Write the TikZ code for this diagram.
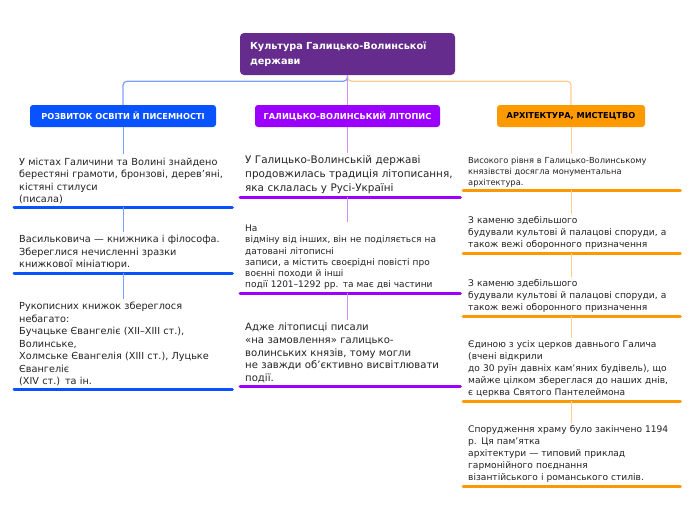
\documentclass[tikz,border=0pt]{standalone}
\usepackage{fontspec}
\setmainfont{DejaVu Sans}
\definecolor{rootc}{RGB}{101,44,142}
\definecolor{bluec}{RGB}{8,82,255}
\definecolor{bluel}{RGB}{125,160,250}
\definecolor{purc}{RGB}{155,0,255}
\definecolor{purl}{RGB}{205,145,255}
\definecolor{orc}{RGB}{255,153,0}
\definecolor{orl}{RGB}{255,205,140}
\definecolor{txt}{RGB}{35,35,35}
\tikzset{
  rootbox/.style={fill=rootc, rounded corners=4pt, text=white, font=\bfseries\fontsize{9.7}{15}\selectfont, align=left, minimum width=215pt, minimum height=42pt, inner xsep=10pt, text width=195pt},
  headbox/.style={rounded corners=3pt, font=\bfseries\fontsize{8.2}{9}\selectfont, minimum height=22pt, inner sep=0pt},
  item/.style={anchor=south west, align=left, text=txt, inner xsep=5pt, inner ysep=3pt},
  bline/.style={bluec, line width=3pt, line cap=round},
  pline/.style={purc, line width=3pt, line cap=round},
  oline/.style={orc, line width=3pt, line cap=round},
  bconn/.style={bluel, line width=1pt},
  pconn/.style={purl, line width=1pt},
  oconn/.style={orl, line width=1pt},
}
\begin{document}
\begin{tikzpicture}[x=1pt,y=-1pt]
\useasboundingbox[fill=white] (0,0) rectangle (696,520);
% root
\node[rootbox] (root) at (347.5,54) {Культура Галицько-Волинської\\держави};
% headers
\node[headbox, fill=bluec, text=white, minimum width=186pt] (bh) at (123,116) {РОЗВИТОК ОСВІТИ Й ПИСЕМНОСТІ};
\node[headbox, fill=purc, text=white, minimum width=185pt] (ph) at (347.5,116) {ГАЛИЦЬКО-ВОЛИНСЬКИЙ ЛІТОПИС};
\node[headbox, fill=orc, text=black, minimum width=148pt] (oh) at (571,116) {АРХІТЕКТУРА, МИСТЕЦТВО};
% root connectors
\draw[bluel, line width=1.2pt, rounded corners=4pt] (root.south) -- ++(0,6) -| (bh.north);
\draw[orl, line width=1.2pt, rounded corners=4pt] (root.south) -- ++(0,6) -| (oh.north);
\draw[purl, line width=1.2pt] (root.south) -- (ph.north);
% column 1
\begin{scope}[every node/.append style={text width=208pt, font=\fontsize{9.7}{12.5}\selectfont}]
\node[item] (b1) at (14,207) {У містах Галичини та Волині знайдено\\берестяні грамоти, бронзові, дерев’яні,\\кістяні стилуси\\(писала)};
\node[item] (b2) at (14,273) {Васильковича — книжника і філософа.\\Збереглися нечисленні зразки\\книжкової мініатюри.};
\node[item] (b3) at (14,389) {Рукописних книжок збереглося\\небагато:\\Бучацьке Євангеліє (XII–XIII ст.),\\Волинське,\\Холмське Євангелія (XIII ст.), Луцьке\\Євангеліє\\(XIV ст.) та ін.};
\end{scope}
\foreach \n in {b1,b2,b3} \draw[bline] (\n.south west) -- (\n.south east);
\draw[bconn] (bh.south) -- (bh.south |- b1.north);
\draw[bconn] (b1.south) -- (b2.north);
\draw[bconn] (b2.south) -- (b3.north);
% column 2
\node[item, text width=210pt, font=\fontsize{10.4}{14}\selectfont] (p1) at (240,197) {У Галицько-Волинській державі\\продовжилась традиція літописання,\\яка склалась у Русі-Україні};
\node[item, text width=210pt, font=\fontsize{9}{11.3}\selectfont] (p2) at (240,293) {На\\відміну від інших, він не поділяється на\\датовані літописні\\записи, а містить своєрідні повісті про\\воєнні походи й інші\\події 1201–1292 рр. та має дві частини};
\node[item, text width=210pt, font=\fontsize{10.1}{12.7}\selectfont] (p3) at (240,386) {Адже літописці писали\\«на замовлення» галицько-\\волинських князів, тому могли\\не завжди об’єктивно висвітлювати\\події.};
\foreach \n in {p1,p2,p3} \draw[pline] (\n.south west) -- (\n.south east);
\draw[pconn] (ph.south) -- (ph.south |- p1.north);
\draw[pconn] (ph.south |- p1.south) -- (ph.south |- p2.north);
\draw[pconn] (ph.south |- p2.south) -- (ph.south |- p3.north);
% column 3
\begin{scope}[every node/.append style={text width=207pt}]
\node[item, font=\fontsize{8.3}{11}\selectfont] (o1) at (463,190) {Високого рівня в Галицько-Волинському\\князівстві досягла монументальна\\архітектура.};
\node[item, font=\fontsize{9.1}{12}\selectfont] (o2) at (463,253) {З каменю здебільшого\\будували культові й палацові споруди, а\\також вежі оборонного призначення};
\node[item, font=\fontsize{9.1}{12}\selectfont] (o3) at (463,316) {З каменю здебільшого\\будували культові й палацові споруди, а\\також вежі оборонного призначення};
\node[item, font=\fontsize{9.1}{12}\selectfont] (o4) at (463,401) {Єдиною з усіх церков давнього Галича\\(вчені відкрили\\до 30 руїн давніх кам’яних будівель), що\\майже цілком збереглася до наших днів,\\є церква Святого Пантелеймона};
\node[item, font=\fontsize{9.1}{12}\selectfont] (o5) at (463,486) {Спорудження храму було закінчено 1194\\р. Ця пам’ятка\\архітектури — типовий приклад\\гармонійного поєднання\\візантійського і романського стилів.};
\end{scope}
\foreach \n in {o1,o2,o3,o4,o5} \draw[oline] (\n.south west) -- (\n.south east);
\draw[oconn] (oh.south) -- (oh.south |- o1.north);
\draw[oconn] (o1.south) -- (o2.north);
\draw[oconn] (o2.south) -- (o3.north);
\draw[oconn] (o3.south) -- (o4.north);
\draw[oconn] (o4.south) -- (o5.north);
\end{tikzpicture}
\end{document}
